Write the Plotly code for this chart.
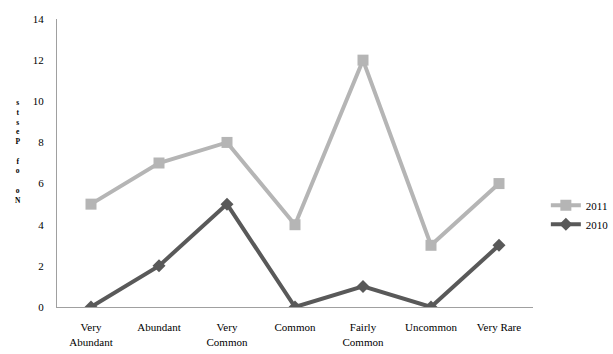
import plotly.graph_objects as go

categories = ["Very<br>Abundant", "Abundant", "Very<br>Common", "Common",
              "Fairly<br>Common", "Uncommon", "Very Rare"]
values_2011 = [5, 7, 8, 4, 12, 3, 6]
values_2010 = [0, 2, 5, 0, 1, 0, 3]
y_ticks = [0, 2, 4, 6, 8, 10, 12, 14]
y_title = "No of Pests"

FONT = "Liberation Serif"

fig = go.Figure()
fig.add_trace(go.Scatter(
    x=categories, y=values_2011, name="2011", mode="lines+markers",
    line=dict(color="#b5b5b5", width=4),
    marker=dict(symbol="square", size=11, color="#b5b5b5"),
))
fig.add_trace(go.Scatter(
    x=categories, y=values_2010, name="2010", mode="lines+markers",
    line=dict(color="#595959", width=4),
    marker=dict(symbol="diamond", size=10, color="#595959"),
))

fig.update_layout(
    width=613, height=354,
    margin=dict(l=57, r=80, t=19, b=47, autoexpand=False),
    paper_bgcolor="white", plot_bgcolor="white",
    font=dict(family=FONT, size=11, color="black"),
    showlegend=True,
    legend=dict(x=1.027, y=0.32, xanchor="left", yanchor="middle",
                font=dict(family=FONT, size=11), itemwidth=30,
                tracegroupgap=6),
    xaxis=dict(type="category", showline=True, linecolor="#a0a0a0",
               linewidth=1, showgrid=False, ticks="outside", ticklen=10,
               tickcolor="white", range=[-0.5, 6.5], automargin=False),
    yaxis=dict(range=[0, 14], tickvals=y_ticks, showline=True,
               linecolor="#a0a0a0", linewidth=1, showgrid=False,
               zeroline=False, ticks="outside", ticklen=10,
               tickcolor="white", automargin=False),
)

# Axis title drawn as upright stacked letters, read bottom to top
stacked = "<br>".join(reversed(list(y_title)))
fig.add_annotation(
    text=f"<b>{stacked}</b>", xref="paper", yref="paper",
    x=-0.082, y=0.54, showarrow=False,
    font=dict(family=FONT, size=7.5, color="black"),
    xanchor="center", yanchor="middle",
)

fig.write_html("out.html")
